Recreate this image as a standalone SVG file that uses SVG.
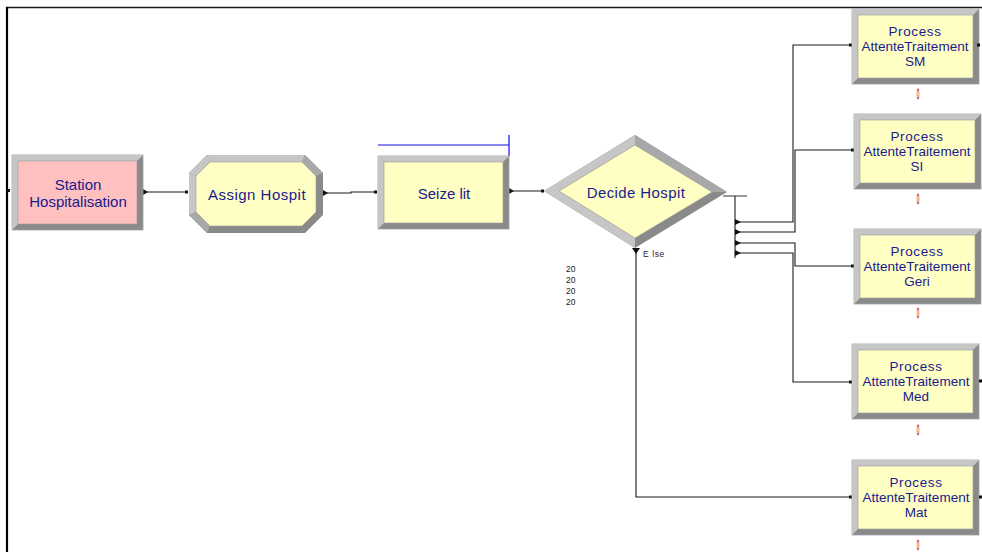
<svg xmlns="http://www.w3.org/2000/svg" width="982" height="552" viewBox="0 0 982 552">
<style>
.lbl{font-family:"Liberation Sans",Arial,sans-serif;font-size:15px;fill:#1a1a8c;text-anchor:middle}
.plbl{font-family:"Liberation Sans",Arial,sans-serif;font-size:13.5px;fill:#1a1a8c;text-anchor:middle}
.sm{font-family:"Liberation Sans",Arial,sans-serif;font-size:8.5px;fill:#222}
.zero{font-family:"Liberation Sans",Arial,sans-serif;font-size:15px;fill:#fff;stroke:#c03838;stroke-width:0.9;text-anchor:middle}
.dark{fill:#8a8a8a}
.light{fill:#c6c6c6}
.mid{fill:#a8a8a8}
.yel{fill:#ffffc4;stroke:#9a9a9a;stroke-width:0.6}
.pink{fill:#ffc0c0;stroke:#9a9a9a;stroke-width:0.6}
.con{fill:none;stroke:#1a1a1a;stroke-width:1.1}
.entry{fill:#111}
</style>
<defs>
<g id="rectNode">
<rect x="0" y="0" width="127" height="75" class="dark" stroke="#a0a0a0" stroke-width="0.8"/>
<polygon points="0,0 127,0 121,6 6,6 6,69 0,75" class="light"/>
</g>
</defs>

<!-- frame -->
<line x1="6" y1="7.5" x2="982" y2="7.5" stroke="#1a1a1a" stroke-width="1.5"/>
<line x1="7" y1="7" x2="7" y2="552" stroke="#000" stroke-width="2.2"/>
<rect x="7" y="189" width="3" height="3" class="entry"/>

<g id="connectors">
<path class="con" d="M143,192 H187"/>
<path class="con" d="M323,193 H351 V192 H376"/>
<path class="con" d="M510,191 H543"/>
<path d="M723,196 H747" fill="none" stroke="#555" stroke-width="1.2"/>
<path class="con" d="M735,196 V258"/>
<path class="con" d="M737,222 H793 V45 H850"/>
<path class="con" d="M737,232 H795 V150 H852"/>
<path class="con" d="M737,243 H795 V266 H852"/>
<path class="con" d="M737,253 H793 V382 H850"/>
<path class="con" d="M636,248 V497 H850"/>
<!-- exit triangles -->
<polygon points="143,189 148,192 143,195" fill="#111"/>
<polygon points="323,190 328,193 323,196" fill="#111"/>
<polygon points="509,188 514,191 509,194" fill="#111"/>
<polygon points="632,248 640,248 636,254" fill="#111"/>
<polygon points="735,219 741,222 735,225" fill="#111"/>
<polygon points="735,229 741,232 735,235" fill="#111"/>
<polygon points="735,240 741,243 735,246" fill="#111"/>
<polygon points="735,250 741,253 735,256" fill="#111"/>
<!-- entry dots -->
<rect x="185" y="190.5" width="3" height="3" class="entry"/>
<rect x="374" y="190.5" width="3" height="3" class="entry"/>
<rect x="541" y="189.5" width="3" height="3" class="entry"/>
<rect x="849" y="43.5" width="3" height="3" class="entry"/>
<rect x="851" y="148.5" width="3" height="3" class="entry"/>
<rect x="851" y="264.5" width="3" height="3" class="entry"/>
<rect x="849" y="380.5" width="3" height="3" class="entry"/>
<rect x="849" y="495.5" width="3" height="3" class="entry"/>
</g>

<g id="station">
<rect x="12" y="155" width="131" height="75" class="dark" stroke="#a0a0a0" stroke-width="0.8"/>
<polygon points="12,155 143,155 137,161 18,161 18,224 12,230" class="light"/>
<rect x="18" y="161" width="119" height="63" class="pink"/>
<text class="lbl" x="78" y="190">Station</text>
<text class="lbl" x="78" y="207">Hospitalisation</text>
</g>

<g id="assign">
<polygon points="207,155 305,155 323,173 323,215 305,233 207,233 189,215 189,173" class="dark"/>
<polygon points="207,155 305,155 302,162 210,162" class="light"/>
<polygon points="305,155 323,173 316,176 302,162" class="mid"/>
<polygon points="189,173 207,155 210,162 196,176" class="light"/>
<polygon points="189,215 189,173 196,176 196,212" class="light"/>
<polygon points="207,233 189,215 196,212 210,226" class="mid"/>
<polygon points="210,162 302,162 316,176 316,212 302,226 210,226 196,212 196,176" class="yel"/>
<text class="lbl" x="257" y="200" letter-spacing="0.5">Assign Hospit</text>
</g>

<g id="seize">
<line x1="378" y1="145" x2="509" y2="145" stroke="#1010e0" stroke-width="1.2"/>
<line x1="509" y1="135" x2="509" y2="156" stroke="#1010e0" stroke-width="1.2"/>
<rect x="378" y="156" width="131" height="73" class="dark" stroke="#a0a0a0" stroke-width="0.8"/>
<polygon points="378,156 509,156 503,162 384,162 384,223 378,229" class="light"/>
<rect x="384" y="162" width="119" height="61" class="yel"/>
<text class="lbl" x="444" y="199">Seize lit</text>
</g>

<g id="decide">
<polygon points="544,191 635,135 727,192 635,248" class="dark"/>
<polygon points="544,191 635,135 635,145 559,191" class="light"/>
<polygon points="635,135 727,192 712,192 635,145" class="mid"/>
<polygon points="544,191 559,191 635,238 635,248" class="light"/>
<polygon points="559,191 635,145 712,192 635,238" class="yel"/>
<text class="lbl" x="636" y="198" letter-spacing="0.4">Decide Hospit</text>
<text class="sm" x="643" y="257" letter-spacing="0.6">E lse</text>
<text class="sm" x="566" y="272">20</text>
<text class="sm" x="566" y="283">20</text>
<text class="sm" x="566" y="294">20</text>
<text class="sm" x="566" y="305">20</text>
</g>

<g id="procSM">
<use href="#rectNode" x="852" y="9"/>
<rect x="858" y="15" width="115" height="63" class="yel"/>
<rect x="977" y="43.5" width="3" height="3" class="entry"/>
<text class="plbl" x="915" y="35.5" letter-spacing="0.6">Process</text>
<text class="plbl" x="915" y="50.7">AttenteTraitement</text>
<text class="plbl" x="915" y="65.9">SM</text>
<text class="zero" transform="translate(918,99) scale(0.3,1)">0</text>
</g>

<g id="procSI">
<use href="#rectNode" x="854" y="114"/>
<rect x="860" y="120" width="115" height="63" class="yel"/>
<text class="plbl" x="917" y="140.5" letter-spacing="0.6">Process</text>
<text class="plbl" x="917" y="155.7">AttenteTraitement</text>
<text class="plbl" x="917" y="170.9">SI</text>
<text class="zero" transform="translate(918,204) scale(0.3,1)">0</text>
</g>

<g id="procGeri">
<use href="#rectNode" x="854" y="229"/>
<rect x="860" y="235" width="115" height="63" class="yel"/>
<text class="plbl" x="917" y="255.5" letter-spacing="0.6">Process</text>
<text class="plbl" x="917" y="270.7">AttenteTraitement</text>
<text class="plbl" x="917" y="285.9">Geri</text>
<text class="zero" transform="translate(918,318) scale(0.3,1)">0</text>
</g>

<g id="procMed">
<use href="#rectNode" x="852" y="344"/>
<rect x="858" y="350" width="115" height="63" class="yel"/>
<rect x="979" y="379.5" width="3" height="3" class="entry"/>
<text class="plbl" x="916" y="370.5" letter-spacing="0.6">Process</text>
<text class="plbl" x="916" y="385.7">AttenteTraitement</text>
<text class="plbl" x="916" y="400.9">Med</text>
<text class="zero" transform="translate(918,435) scale(0.3,1)">0</text>
</g>

<g id="procMat">
<use href="#rectNode" x="852" y="460"/>
<rect x="858" y="466" width="115" height="63" class="yel"/>
<rect x="979" y="495.5" width="3" height="3" class="entry"/>
<text class="plbl" x="916" y="486.5" letter-spacing="0.6">Process</text>
<text class="plbl" x="916" y="501.7">AttenteTraitement</text>
<text class="plbl" x="916" y="516.9">Mat</text>
<text class="zero" transform="translate(918,550) scale(0.3,1)">0</text>
</g>
</svg>
